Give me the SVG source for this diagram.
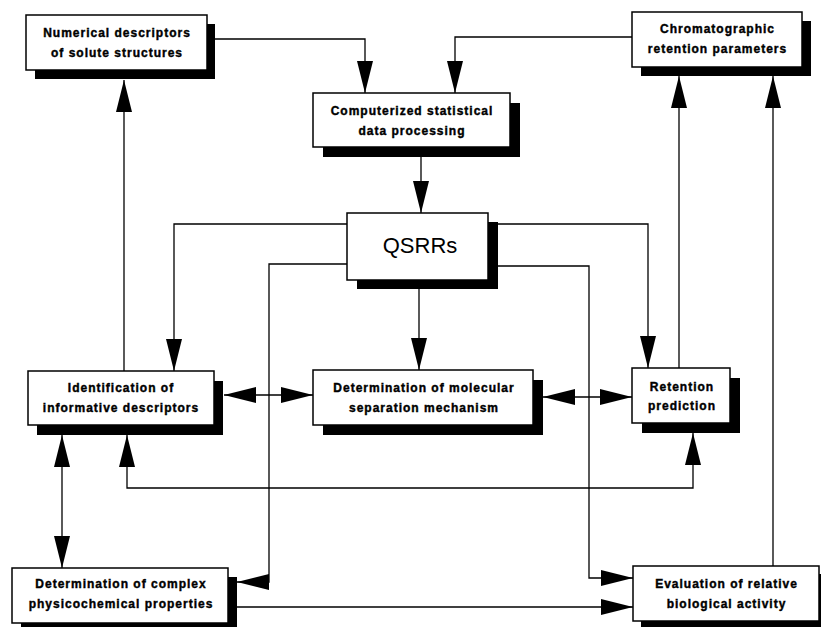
<svg xmlns="http://www.w3.org/2000/svg" width="821" height="627" viewBox="0 0 821 627">
<style>
.box{fill:#fff;stroke:#000;stroke-width:1.5}
.sh{fill:#000;stroke:none}
.lbl{font-family:"Liberation Sans",Arial,sans-serif;font-weight:bold;font-size:12px;letter-spacing:1px;text-anchor:middle;fill:#000;stroke:#000;stroke-width:0.4}
.big{font-family:"Liberation Sans",Arial,sans-serif;font-size:22px;text-anchor:middle;fill:#000}
.ln{fill:none;stroke:#000;stroke-width:1.3}
.a1{marker-end:url(#ah)}
.a2{marker-end:url(#ah);marker-start:url(#ah)}
</style>
<defs>
<marker id="ah" viewBox="0 0 32 16" refX="32" refY="8" markerWidth="32" markerHeight="16" markerUnits="userSpaceOnUse" orient="auto-start-reverse">
<path d="M0,0 L32,8 L0,16 z" fill="#000"/>
</marker>
</defs>
<rect width="821" height="627" fill="#fff"/>
<g id="connectors">
<path class="ln a1" d="M207,39 H365 V93"/>
<path class="ln a1" d="M632,37 H455 V93"/>
<path class="ln a1" d="M421,157 V213"/>
<path class="ln a1" d="M348,224 H174 V371"/>
<path class="ln a1" d="M348,264 H269 V582 H237"/>
<path class="ln a1" d="M498,224 H648 V368"/>
<path class="ln a1" d="M498,266 H589 V578 H633"/>
<path class="ln a1" d="M419,289 V370"/>
<path class="ln a2" d="M224,395 H313"/>
<path class="ln a2" d="M543,397 H632"/>
<path class="ln a2" d="M693,433 V488 H127 V435"/>
<path class="ln a2" d="M62,435 V568"/>
<path class="ln a1" d="M124,371 V80"/>
<path class="ln a1" d="M679,368 V76"/>
<path class="ln a1" d="M773,566 V76"/>
<path class="ln a1" d="M237,607 H633"/>
</g>
<g id="numerical">
<rect class="sh" x="35" y="24" width="180" height="55"/>
<rect class="box" x="26" y="15" width="181" height="55"/>
<text class="lbl" x="117" y="37">Numerical descriptors</text>
<text class="lbl" x="117" y="57">of solute structures</text>
</g>
<g id="computerized">
<rect class="sh" x="323" y="103" width="197" height="54"/>
<rect class="box" x="313" y="93" width="197" height="54"/>
<text class="lbl" x="412" y="115">Computerized statistical</text>
<text class="lbl" x="412" y="135">data processing</text>
</g>
<g id="chromatographic">
<rect class="sh" x="641" y="21" width="170" height="55"/>
<rect class="box" x="632" y="12" width="170" height="55"/>
<text class="lbl" x="717.5" y="33">Chromatographic</text>
<text class="lbl" x="717.5" y="53">retention parameters</text>
</g>
<g id="qsrrs">
<rect class="sh" x="357" y="222" width="141" height="67"/>
<rect class="box" x="347" y="213" width="141" height="67"/>
<text class="big" x="420" y="253">QSRRs</text>
</g>
<g id="identification">
<rect class="sh" x="37" y="381" width="186" height="54"/>
<rect class="box" x="28" y="371" width="186" height="54"/>
<text class="lbl" x="121" y="392">Identification of</text>
<text class="lbl" x="121" y="412">informative descriptors</text>
</g>
<g id="mechanism">
<rect class="sh" x="323" y="380" width="220" height="55"/>
<rect class="box" x="313" y="370" width="220" height="55"/>
<text class="lbl" x="424" y="392">Determination of molecular</text>
<text class="lbl" x="424" y="412">separation mechanism</text>
</g>
<g id="retention">
<rect class="sh" x="642" y="378" width="98" height="55"/>
<rect class="box" x="632" y="368" width="98" height="55"/>
<text class="lbl" x="682" y="391">Retention</text>
<text class="lbl" x="682" y="410">prediction</text>
</g>
<g id="physicochemical">
<rect class="sh" x="21" y="577" width="216" height="55"/>
<rect class="box" x="12" y="568" width="216" height="55"/>
<text class="lbl" x="121" y="588">Determination of complex</text>
<text class="lbl" x="121" y="608">physicochemical properties</text>
</g>
<g id="biological">
<rect class="sh" x="641" y="574" width="186" height="55"/>
<rect class="box" x="633" y="566" width="186" height="55"/>
<text class="lbl" x="726.5" y="588">Evaluation of relative</text>
<text class="lbl" x="726.5" y="608">biological activity</text>
</g>
</svg>
